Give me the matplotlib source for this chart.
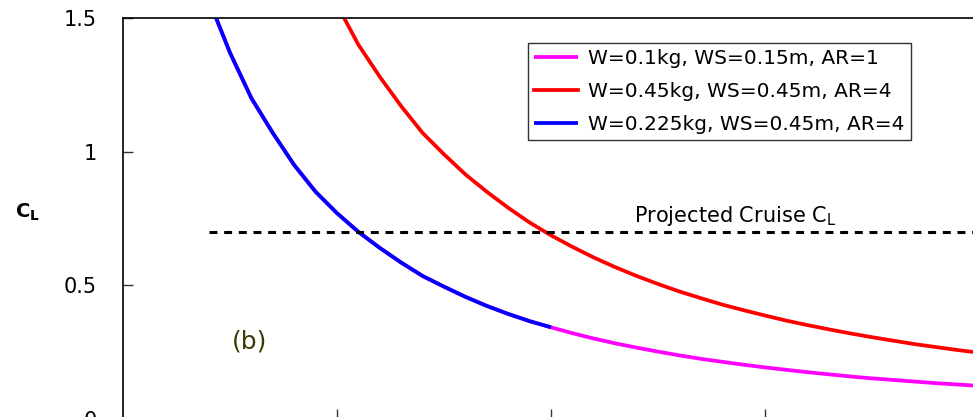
import matplotlib
matplotlib.use("Agg")
import matplotlib.pyplot as plt

plt.rcParams['font.family'] = ['DejaVu Sans']
plt.rcParams['mathtext.fontset'] = 'dejavusans'

# Velocity (m/s) sample points and lift coefficient
v_low = [7.0, 7.5, 8.0, 8.5, 9.0, 9.5, 10.0, 10.5, 11.0, 11.5, 12.0, 12.5,
         13.0, 13.5, 14.0, 14.5, 15.0]
v_high = [15.5, 16.0, 16.5, 17.0, 17.5, 18.0, 18.5, 19.0, 19.5, 20.0, 20.5,
          21.0, 21.5, 22.0, 22.5, 23.0, 23.5, 24.0, 24.5, 25.0]
v_red = [10.0, 10.5, 11.0, 11.5, 12.0, 12.5, 13.0, 13.5, 14.0, 14.5, 15.0,
         15.5, 16.0, 16.5, 17.0, 17.5, 18.0, 18.5, 19.0, 19.5, 20.0, 20.5,
         21.0, 21.5, 22.0, 22.5, 23.0, 23.5, 24.0, 24.5, 25.0]

cl_blue = [1.57, 1.37, 1.20, 1.07, 0.95, 0.85, 0.77, 0.70, 0.64, 0.585,
           0.535, 0.495, 0.457, 0.423, 0.393, 0.366, 0.343]
cl_magenta = cl_blue + [0.321, 0.301, 0.283, 0.267, 0.252, 0.238, 0.225,
                        0.214, 0.203, 0.193, 0.184, 0.175, 0.167, 0.159,
                        0.152, 0.146, 0.140, 0.134, 0.129, 0.124]
v_magenta = v_low + v_high
cl_red = [1.55, 1.40, 1.28, 1.17, 1.07, 0.99, 0.915, 0.85, 0.79, 0.735,
          0.687, 0.644, 0.604, 0.568, 0.535, 0.505, 0.477, 0.452, 0.428,
          0.407, 0.387, 0.368, 0.351, 0.335, 0.320, 0.306, 0.293, 0.280,
          0.269, 0.258, 0.248]

cruise_v = [7.0, 25.0]
cruise_cl = [0.7, 0.7]

labels = ["W=0.1kg, WS=0.15m, AR=1",
          "W=0.45kg, WS=0.45m, AR=4",
          "W=0.225kg, WS=0.45m, AR=4"]
yticks = [0, 0.5, 1, 1.5]
yticklabels = ["0", "0.5", "1", "1.5"]
xticks = [10, 15, 20]

W, H = 973, 417
fig = plt.figure(figsize=(W / 100, H / 100), dpi=100)
left = 123 / W
right_px = 123 + 20 * 42.8
top_px = 18
bot_px = 419
ax = fig.add_axes([left, 1 - bot_px / H, (right_px - 123) / W, (bot_px - top_px) / H])

lw = 2.7
ax.plot(v_magenta, cl_magenta, color='#ff00ff', lw=lw, label=labels[0],
        solid_capstyle='butt')
ax.plot(v_red, cl_red, color='#ff0000', lw=lw, label=labels[1])
ax.plot(v_low, cl_blue, color='#0000ff', lw=lw, label=labels[2],
        solid_capstyle='butt')
ax.plot(cruise_v, cruise_cl, color='black', lw=2.2, ls=(0, (2.6, 2.2)))

ax.set_xlim(5, 25)
ax.set_ylim(0, 1.5)
ax.set_yticks(yticks)
ax.set_yticklabels(yticklabels)
ax.set_xticks(xticks)
ax.set_xticklabels([])
ax.tick_params(axis='both', direction='in', length=7, width=1, color='#333333')
ax.tick_params(axis='y', labelsize=15, pad=19)
for s in ax.spines.values():
    s.set_linewidth(1.2)
    s.set_color('black')

ax.text(19.3, 0.738, r'Projected Cruise C$_\mathregular{L}$', fontsize=15,
        ha='center', va='baseline')
ax.text(7.95, 0.29, '(b)', fontsize=18, color='#3d3a05', ha='center',
        va='center')
fig.text(27 / W, 1 - 212 / H, r'$\mathbf{C_L}$', fontsize=14, ha='center',
         va='center')

leg = ax.legend(loc='upper left', bbox_to_anchor=(528 / W, 1 - 43 / H),
                bbox_transform=fig.transFigure, fontsize=14.5,
                frameon=True, fancybox=False, framealpha=1,
                edgecolor='#333333', handlelength=2.2, handletextpad=0.5,
                labelspacing=0.7, borderpad=0.3, borderaxespad=0)
leg.get_frame().set_linewidth(1.0)

fig.savefig('out.png', dpi=100)
